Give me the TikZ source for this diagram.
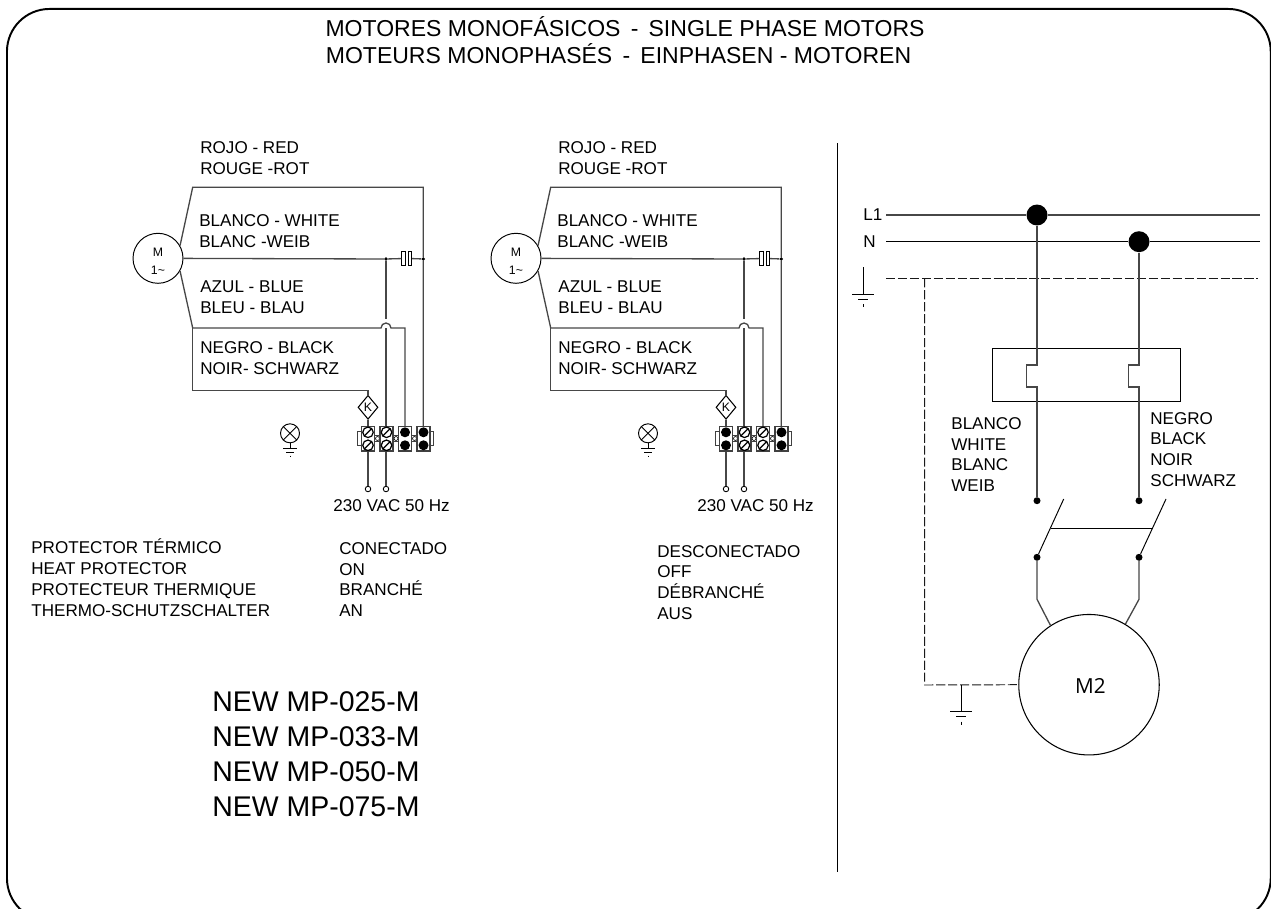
\documentclass[tikz,border=0pt]{standalone}
\usepackage{fontspec}
\setmainfont{Liberation Sans}
\newfontfamily\motorfont{Open Sans}
\usepackage{tikz}
\usetikzlibrary{shapes.geometric}

\begin{document}
\begin{tikzpicture}[x=0.02cm,y=-0.02cm]
\tikzset{
    wire/.style={
                   line width=0.75pt,
                   black!72
    },
    thinWire/.style={
                   line width=0.55pt,
                   black
    },
    earthWire/.style={
                   line width=0.55pt,
                   black!90,
                   dash pattern=on 5.2pt off 1.6pt
    },
    label/.style={
                   anchor=west,
                   align=left,
                   inner sep=0pt,
                   font=\fontsize{9.72}{11.9}\selectfont
    },
    motorNode/.style={
                   draw,
                   circle,
                   line width=0.55pt,
                   inner sep=0pt,
                   minimum size=1cm
    },
    motorText/.style={
                   align=center,
                   inner sep=0pt,
                   font=\fontsize{7}{10.2}\selectfont
    },
    protNode/.style={
                   draw,
                   diamond,
                   line width=0.6pt,
                   inner sep=0pt,
                   minimum width=0.4cm,
                   minimum height=0.48cm,
                   font=\fontsize{7}{8}\selectfont
    },
    lampNode/.style={
                   draw,
                   circle,
                   line width=0.55pt,
                   inner sep=0pt,
                   minimum size=0.38cm,
                   path picture={
                       \draw[line width=0.55pt] (path picture bounding box.south west) -- (path picture bounding box.north east);
                       \draw[line width=0.55pt] (path picture bounding box.north west) -- (path picture bounding box.south east);
                   }
    },
    capNode/.style={
                   draw,
                   line width=0.5pt,
                   inner sep=0pt,
                   minimum width=0.07cm,
                   minimum height=0.27cm
    },
    blockNode/.style={
                   draw=black!75,
                   fill=white,
                   line width=0.7pt,
                   inner sep=0pt,
                   minimum width=0.26cm,
                   minimum height=0.49cm
    },
    tabNode/.style={
                   draw=black!75,
                   fill=white,
                   line width=0.5pt,
                   inner sep=0pt,
                   minimum width=0.09cm,
                   minimum height=0.28cm
    },
    linkNode/.style={
                   draw=black!75,
                   fill=white,
                   line width=0.35pt,
                   inner sep=0pt,
                   minimum width=0.13cm,
                   minimum height=0.13cm
    },
    holeNode/.style={
                   draw,
                   circle,
                   fill=white,
                   line width=0.35pt,
                   inner sep=0pt,
                   minimum size=0.08cm
    },
    screwNode/.style={
                   draw,
                   circle,
                   line width=0.7pt,
                   inner sep=0pt,
                   minimum size=0.21cm,
                   path picture={\draw[line width=0.7pt] (path picture bounding box.south west) -- (path picture bounding box.north east);}
    },
    plugNode/.style={
                   circle,
                   fill=black,
                   inner sep=0pt,
                   minimum size=0.2cm
    },
    feedNode/.style={
                   draw,
                   circle,
                   fill=white,
                   line width=0.5pt,
                   inner sep=0pt,
                   minimum size=0.11cm
    },
    dotNode/.style={
                   circle,
                   fill=black,
                   inner sep=0pt,
                   minimum size=0.075cm
    },
    busNode/.style={
                   circle,
                   fill=black,
                   inner sep=0pt,
                   minimum size=0.42cm
    },
    contactNode/.style={
                   circle,
                   fill=black,
                   inner sep=0pt,
                   minimum size=0.14cm
    }
}
    % frame and titles
    \useasboundingbox (0,0) rectangle (1271,909);
    \node (frame)[draw, line width=1.1pt, minimum width=25.28cm, minimum height=18.24cm, rounded corners=0.85cm, anchor=north west, inner sep=0pt] at (6,8) {};
    \node (title1)[inner sep=0pt, font=\fontsize{13.1}{15}\selectfont] at (625,27) {MOTORES MONOFÁSICOS\, -\, SINGLE PHASE MOTORS};
    \node (title2)[inner sep=0pt, font=\fontsize{13.1}{15}\selectfont] at (618.5,54) {MOTEURS MONOPHASÉS\, -\, EINPHASEN - MOTOREN};
    \coordinate (divider1) at (837,143);
    \coordinate (divider2) at (837,872);
    \draw[thinWire] (divider1) -- (divider2);

    % circuit on the left
    \node (ml)[motorNode] at (158,258.3) {};
    \node (mlText)[motorText] at (158,261.5) {M\\1\textasciitilde};
    \node (rojol)[label] at (200,158.5) {ROJO - RED\\ROUGE -ROT};
    \node (blancol)[label] at (199,231.5) {BLANCO - WHITE\\BLANC -WEIB};
    \node (azull)[label] at (200,297.5) {AZUL - BLUE\\BLEU - BLAU};
    \node (negrol)[label] at (200,358.5) {NEGRO - BLACK\\NOIR- SCHWARZ};
    \node (voltl)[label] at (333,505.5) {230 VAC 50 Hz};
    \coordinate (la) at (192.7,187.3);
    \coordinate (lb) at (192.7,328);
    \coordinate (lc) at (192.7,390.3);
    \node (dotla)[dotNode] at (386,259) {};
    \node (dotlb)[dotNode] at (423.3,259) {};
    \node (capla)[capNode] at (403.5,258.5) {};
    \node (caplb)[capNode] at (410,258.5) {};
    \node (kl)[protNode] at (368,407.3) {K};
    \node (feedla)[feedNode] at (368,489) {};
    \node (feedlb)[feedNode] at (386,489) {};
    \draw[wire] (ml.30) -- (la) -- (423.3,187.3) -- (dotlb) -- (423.3,430);
    \draw[wire] (ml) -- (dotla) -- (capla);
    \draw[wire] (caplb) -- (dotlb);
    \draw[wire] (ml.-30) -- (lb) -- (381,328) arc[start angle=180, end angle=360, radius=5] -- (405,328) -- (405,430);
    \draw[wire] (dotla) -- (386,319);
    \draw[wire] (386,328) -- (feedlb);
    \draw[wire] (lb) -- (lc) -- (368,390.3) -- (kl);
    \draw[wire] (kl) -- (feedla);
    \node (tablw)[tabNode] at (360,438.5) {};
    \node (tablr)[tabNode] at (431.5,438.5) {};
    \node (linkla)[linkNode] at (377.5,438.5) {};
    \node (linklb)[linkNode] at (396,438.5) {};
    \node (linklc)[linkNode] at (414.5,438.5) {};
    \node (holela)[holeNode] at (377.5,438.5) {};
    \node (holelb)[holeNode] at (396,438.5) {};
    \node (holelc)[holeNode] at (414.5,438.5) {};
    \node (blockla)[blockNode] at (368,438.8) {};
    \node (blocklb)[blockNode] at (386.5,438.8) {};
    \node (blocklc)[blockNode] at (405,438.8) {};
    \node (blockld)[blockNode] at (423.5,438.8) {};
    \node (screwla)[screwNode] at (368,432.3) {};
    \node (screwlb)[screwNode] at (368,445.3) {};
    \node (screwlc)[screwNode] at (386.5,432.3) {};
    \node (screwld)[screwNode] at (386.5,445.3) {};
    \node (pluglc)[plugNode] at (405,432.3) {};
    \node (plugld)[plugNode] at (405,445.3) {};
    \node (plugle)[plugNode] at (423.5,432.3) {};
    \node (pluglf)[plugNode] at (423.5,445.3) {};
    \node (lampl)[lampNode] at (290,433.3) {};
    \coordinate (groundl) at (290,448.3);
    \draw[thinWire] (lampl) -- (groundl);
    \draw[thinWire] (283,448.3) -- (297,448.3);
    \draw[thinWire] (286,452.3) -- (294,452.3);
    \draw[thinWire] (290,455.5) -- (290,457);

    % circuit in the middle
    \node (mr)[motorNode] at (516,258.3) {};
    \node (mrText)[motorText] at (516,261.5) {M\\1\textasciitilde};
    \node (rojor)[label] at (558,158.5) {ROJO - RED\\ROUGE -ROT};
    \node (blancor)[label] at (557,231.5) {BLANCO - WHITE\\BLANC -WEIB};
    \node (azulr)[label] at (558,297.5) {AZUL - BLUE\\BLEU - BLAU};
    \node (negror)[label] at (558,358.5) {NEGRO - BLACK\\NOIR- SCHWARZ};
    \node (voltr)[label] at (697,505.5) {230 VAC 50 Hz};
    \coordinate (ra) at (550.7,187.3);
    \coordinate (rb) at (550.7,328);
    \coordinate (rc) at (550.7,390.3);
    \node (dotra)[dotNode] at (744,259) {};
    \node (dotrb)[dotNode] at (781.3,259) {};
    \node (capra)[capNode] at (761.5,258.5) {};
    \node (caprb)[capNode] at (768,258.5) {};
    \node (kr)[protNode] at (726,407.3) {K};
    \node (feedra)[feedNode] at (726,489) {};
    \node (feedrb)[feedNode] at (744,489) {};
    \draw[wire] (mr.30) -- (ra) -- (781.3,187.3) -- (dotrb) -- (781.3,430);
    \draw[wire] (mr) -- (dotra) -- (capra);
    \draw[wire] (caprb) -- (dotrb);
    \draw[wire] (mr.-30) -- (rb) -- (739,328) arc[start angle=180, end angle=360, radius=5] -- (763,328) -- (763,430);
    \draw[wire] (dotra) -- (744,319);
    \draw[wire] (744,328) -- (feedrb);
    \draw[wire] (rb) -- (rc) -- (726,390.3) -- (kr);
    \draw[wire] (kr) -- (feedra);
    \node (tabrw)[tabNode] at (718,438.5) {};
    \node (tabrr)[tabNode] at (789.5,438.5) {};
    \node (linkra)[linkNode] at (735.5,438.5) {};
    \node (linkrb)[linkNode] at (754,438.5) {};
    \node (linkrc)[linkNode] at (772.5,438.5) {};
    \node (holera)[holeNode] at (735.5,438.5) {};
    \node (holerb)[holeNode] at (754,438.5) {};
    \node (holerc)[holeNode] at (772.5,438.5) {};
    \node (blockra)[blockNode] at (726,438.8) {};
    \node (blockrb)[blockNode] at (744.5,438.8) {};
    \node (blockrc)[blockNode] at (763,438.8) {};
    \node (blockrd)[blockNode] at (781.5,438.8) {};
    \node (plugra)[plugNode] at (726,432.3) {};
    \node (plugrb)[plugNode] at (726,445.3) {};
    \node (screwrc)[screwNode] at (744.5,432.3) {};
    \node (screwrd)[screwNode] at (744.5,445.3) {};
    \node (screwre)[screwNode] at (763,432.3) {};
    \node (screwrf)[screwNode] at (763,445.3) {};
    \node (plugre)[plugNode] at (781.5,432.3) {};
    \node (plugrf)[plugNode] at (781.5,445.3) {};
    \node (lampr)[lampNode] at (648,433.3) {};
    \coordinate (groundr) at (648,448.3);
    \draw[thinWire] (lampr) -- (groundr);
    \draw[thinWire] (641,448.3) -- (655,448.3);
    \draw[thinWire] (644,452.3) -- (652,452.3);
    \draw[thinWire] (648,455.5) -- (648,457);

    % texts under the circuits
    \node (protector)[label] at (31,577.5) {PROTECTOR TÉRMICO\\HEAT PROTECTOR\\PROTECTEUR THERMIQUE\\THERMO-SCHUTZSCHALTER};
    \node (conectado)[label] at (339,579.5) {CONECTADO\\ON\\BRANCHÉ\\AN};
    \node (desconectado)[label] at (657,582.5) {DESCONECTADO\\OFF\\DÉBRANCHÉ\\AUS};
    \node (models)[label, font=\fontsize{16.2}{19.85}\selectfont] at (212,754.5) {NEW MP-025-M\\NEW MP-033-M\\NEW MP-050-M\\NEW MP-075-M};

    % motor on the right
    \node (lone)[label] at (863,215) {L1};
    \node (neutral)[label] at (863,242) {N};
    \coordinate (loneA) at (886,215);
    \coordinate (loneB) at (1260,215);
    \coordinate (neutralA) at (886,241.7);
    \coordinate (neutralB) at (1260,241.7);
    \coordinate (earthA) at (886,278.3);
    \coordinate (earthB) at (1258,278.3);
    \coordinate (earthC) at (924.7,278.3);
    \node (busA)[busNode] at (1037,215) {};
    \node (busB)[busNode] at (1139,241.7) {};
    \node (relay)[draw, line width=0.55pt, inner sep=0pt, minimum width=3.75cm, minimum height=1.05cm] at (1086.5,375) {};
    \node (contactA)[contactNode] at (1037,500.7) {};
    \node (contactB)[contactNode] at (1139,500.7) {};
    \node (contactC)[contactNode] at (1037,557.3) {};
    \node (contactD)[contactNode] at (1139,557.3) {};
    \coordinate (bladeA) at (1063.7,499);
    \coordinate (bladeB) at (1166,499);
    \coordinate (linkA) at (1051,528.3);
    \coordinate (linkB) at (1151.7,528.3);
    \node (mtwo)[draw, circle, line width=0.6pt, inner sep=0pt, minimum size=2.81cm] at (1089,684.7) {};
    \node (mtwoText)[inner sep=0pt, font=\motorfont\fontsize{11.8}{13}\selectfont] at (1090.5,686) {M2};
    \draw[wire] (loneA) -- (busA) -- (loneB);
    \draw[thinWire] (neutralA) -- (busB) -- (neutralB);
    \draw[earthWire] (earthA) -- (earthB);
    \draw[wire] (busA) -- (1037,365) -- (1026.7,365) -- (1026.7,387) -- (1037,387) -- (contactA);
    \draw[wire] (busB) -- (1139,365) -- (1128.7,365) -- (1128.7,387) -- (1139,387) -- (contactB);
    \draw[thinWire] (contactC) -- (bladeA);
    \draw[thinWire] (contactD) -- (bladeB);
    \draw[thinWire] (linkA) -- (linkB);
    \draw[wire] (contactC) -- (1037,599.3) -- (mtwo.123);
    \draw[wire] (contactD) -- (1139,599.3) -- (mtwo.59);
    \draw[earthWire] (earthC) -- (924.7,685) -- (mtwo.west);
    \coordinate (groundA) at (863,294);
    \coordinate (groundB) at (961,711);
    \draw[thinWire] (863,267) -- (groundA);
    \draw[thinWire] (852,294) -- (874,294);
    \draw[thinWire] (858,299) -- (868,299);
    \draw[thinWire] (863,304) -- (863,307);
    \draw[thinWire] (961,685) -- (groundB);
    \draw[thinWire] (950,711) -- (972,711);
    \draw[thinWire] (956,716.7) -- (966,716.7);
    \draw[thinWire] (961,721.5) -- (961,724.5);
    \node (blancoText)[label] at (951,454.5) {BLANCO\\WHITE\\BLANC\\WEIB};
    \node (negroText)[label] at (1150,449.5) {NEGRO\\BLACK\\NOIR\\SCHWARZ};
\end{tikzpicture}
\end{document}
